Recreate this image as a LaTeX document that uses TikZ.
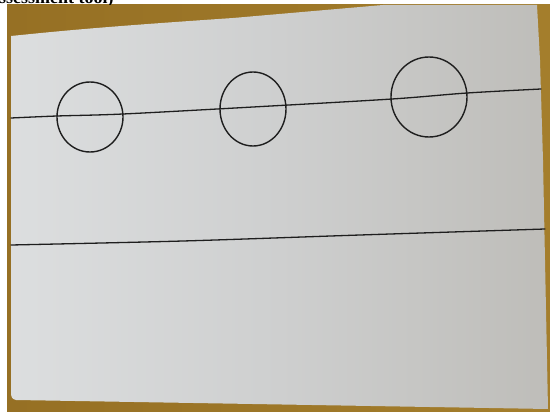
\documentclass[tikz,border=0pt]{standalone}
\usepackage{fontspec}
\setmainfont{Liberation Serif}
\definecolor{tanbg}{RGB}{164,126,44}
\definecolor{tandark}{RGB}{150,112,36}
\definecolor{paperL}{RGB}{220,222,223}
\definecolor{paperM}{RGB}{206,207,207}
\definecolor{paperR}{RGB}{190,189,185}
\definecolor{ink}{RGB}{30,30,30}
\tikzset{
  inkline/.style={draw=ink, line width=1.3pt, line cap=round},
  inkcircle/.style={draw=ink, line width=1.4pt},
}
\begin{document}
\begin{tikzpicture}[x=1pt,y=-1pt]
\useasboundingbox (0,0) rectangle (550,412);
% page background
\fill[white] (0,0) rectangle (550,412);
% tan table
\shade[left color=tandark, right color=tanbg] (7,5) rectangle (550,412);
% paper sheet
\shade[left color=paperL, right color=paperR, middle color=paperM]
  (11,36) .. controls (60,31) and (100,27) .. (233,18)
  -- (383,5) -- (537,5) -- (540,60) -- (543,160) -- (545,260) -- (548,409)
  -- (16,400) .. controls (12,399) and (11,397) .. (11,392) -- cycle;
% cut-off heading text (cut at the top edge as in the reference)
\begin{scope}
  \clip (0,0) rectangle (550,5);
  \node[anchor=base west, inner sep=0pt, font=\fontsize{18}{18}\selectfont\bfseries] (head) at (-1,4) {ssessment tool)};
\end{scope}
% upper line (slightly bowed)
\draw[inkline] plot[smooth, tension=0.5] coordinates {(11,118) (57,116) (123,114) (253,107) (392,99) (467,93) (541,89)};
% lower line
\draw[inkline] plot[smooth, tension=0.5] coordinates {(11,245) (183,241) (360,235) (545,229)};
% circles
\draw[inkcircle] (90,117) ellipse [x radius=33, y radius=35];
\draw[inkcircle] (253,109) ellipse [x radius=33, y radius=37];
\draw[inkcircle] (429,97) ellipse [x radius=38, y radius=40];
\end{tikzpicture}
\end{document}
